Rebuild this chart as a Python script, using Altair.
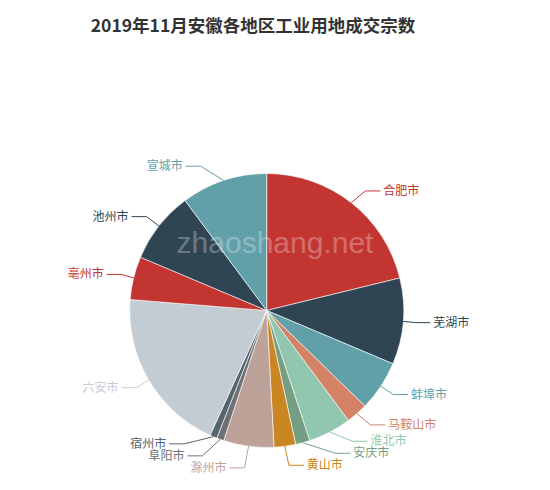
import math
import altair as alt
import pandas as pd

# ---- data ----
cities = ["合肥市", "芜湖市", "蚌埠市", "马鞍山市", "淮北市", "安庆市", "黄山市",
          "滁州市", "阜阳市", "宿州市", "六安市", "亳州市", "池州市", "宣城市"]
counts = [25, 12, 7, 3, 6, 2, 3, 7, 1, 1, 23, 6, 10, 12]
colors = ["#c23531", "#2f4554", "#61a0a8", "#d48265", "#91c7ae", "#749f83", "#ca8622",
          "#bda29a", "#6e7074", "#546570", "#c4ccd3", "#c23531", "#2f4554", "#61a0a8"]
title_text = "2019年11月安徽各地区工业用地成交宗数"
watermark = "zhaoshang.net"

# ---- layout (page pixel coordinates) ----
PAD_TOP = 40
W, H = 534, 474 - PAD_TOP
X0, Y0 = 8, 8 + PAD_TOP
CX, CY, R = 266.7, 310.5, 137.0
LEN, LEN2, LABEL_H = 15.0, 15.0, 12.0

# ---- echarts-like label layout computed from the data ----
total = sum(counts)
labels = []
acc = 0
for i, (c, v) in enumerate(zip(cities, counts)):
    a0 = acc / total * 2 * math.pi
    acc += v
    a1 = acc / total * 2 * math.pi
    mid = (a0 + a1) / 2
    dx, dy = math.sin(mid), -math.cos(mid)
    x1, y1 = CX + R * dx, CY + R * dy
    x2, y2 = x1 + dx * LEN, y1 + dy * LEN
    d = -1 if dx < 0 else 1
    x3 = x2 + d * LEN2
    labels.append(dict(idx=i, name=c, x1=x1, y1=y1, x=x3 + 5 * d, y=y2, dir=d))


def adjust(lst, d):
    lst.sort(key=lambda L: L["y"])
    n = len(lst)

    def shift_up(end, delta):
        for j in range(end, -1, -1):
            lst[j]["y"] -= delta
            if j > 0 and lst[j]["y"] > lst[j - 1]["y"] + LABEL_H:
                break

    def shift_down(start, end, delta):
        for j in range(start, end):
            lst[j]["y"] += delta
            if j > start and j + 1 < end and lst[j + 1]["y"] > lst[j]["y"] + LABEL_H:
                shift_up(j, delta / 2)
                return
        shift_up(end - 1, delta / 2)

    last_y = 0
    for i in range(n):
        delta = lst[i]["y"] - last_y
        if delta < 0:
            shift_down(i, n, -delta)
        last_y = lst[i]["y"] + LABEL_H

    def change_x(sub, is_down):
        last = float("inf") if is_down else 0.0
        for L in sub:
            ddy = abs(L["y"] - CY)
            if ddy < R + LEN:
                ddx = math.sqrt((R + LEN + LEN2) ** 2 - ddy ** 2)
            else:
                ddx = abs(L["x"] - CX)
            if is_down and ddx >= last:
                ddx = last - 10
            if (not is_down) and ddx <= last:
                ddx = last + 10
            L["x"] = CX + ddx * d
            last = ddx

    change_x([L for L in lst if L["y"] < CY], False)
    change_x([L for L in lst if L["y"] >= CY], True)


adjust([L for L in labels if L["x"] >= CX], 1)
adjust([L for L in labels if L["x"] < CX], -1)

line_rows = []
for L in labels:
    p3x = L["x"] - 3 * L["dir"]
    p2x = p3x - LEN2 * L["dir"]
    for k, (px, py) in enumerate([(L["x1"], L["y1"]), (p2x, L["y"]), (p3x, L["y"])]):
        line_rows.append(dict(name=L["name"], k=k, px=px, py=py))

pie_df = pd.DataFrame({"name": cities, "count": counts, "idx": list(range(len(cities)))})
lab_df = pd.DataFrame(labels)
line_df = pd.DataFrame(line_rows)

color_scale = alt.Scale(domain=cities, range=colors)
xs = alt.Scale(domain=[X0, X0 + W], nice=False, zero=False)
ys = alt.Scale(domain=[Y0, Y0 + H], nice=False, zero=False, reverse=True)

FONT = "Noto Sans CJK SC"

pie = alt.Chart(pie_df).mark_arc(outerRadius=R, stroke="#ffffff", strokeWidth=0.6).encode(
    theta=alt.Theta("count:Q", stack=True),
    order=alt.Order("idx:Q"),
    color=alt.Color("name:N", scale=color_scale, legend=None),
    x=alt.value(CX - X0),
    y=alt.value(CY - Y0),
)

lines = alt.Chart(line_df).mark_line(strokeWidth=1).encode(
    x=alt.X("px:Q", scale=xs, axis=None),
    y=alt.Y("py:Q", scale=ys, axis=None),
    detail="name:N",
    order=alt.Order("k:Q"),
    color=alt.Color("name:N", scale=color_scale, legend=None),
)

text_right = alt.Chart(lab_df).transform_filter("datum.dir > 0").mark_text(
    align="left", baseline="middle", font=FONT, fontSize=12
).encode(
    x=alt.X("x:Q", scale=xs, axis=None),
    y=alt.Y("y:Q", scale=ys, axis=None),
    text="name:N",
    color=alt.Color("name:N", scale=color_scale, legend=None),
)

text_left = alt.Chart(lab_df).transform_filter("datum.dir < 0").mark_text(
    align="right", baseline="middle", font=FONT, fontSize=12
).encode(
    x=alt.X("x:Q", scale=xs, axis=None),
    y=alt.Y("y:Q", scale=ys, axis=None),
    text="name:N",
    color=alt.Color("name:N", scale=color_scale, legend=None),
)

wm = alt.Chart(pd.DataFrame({"t": [watermark]})).mark_text(
    align="center", baseline="alphabetic", font="Liberation Sans", fontSize=30,
    color="#ffffff", opacity=0.28
).encode(
    x=alt.value(275 - X0),
    y=alt.value(253 - Y0),
    text="t:N",
)

chart = alt.layer(pie, lines, text_left, text_right, wm).properties(
    width=W,
    height=H,
    padding={"left": 0, "top": PAD_TOP, "right": 0, "bottom": 0},
    autosize="none",
    title=alt.TitleParams(
        text=title_text, font=FONT, fontSize=17.5, fontWeight="bold", color="#333333",
        anchor="middle", dx=-22, offset=13,
    ),
).configure_view(stroke=None)

chart.save("out.html", embed_options={"renderer": "svg", "actions": False})
